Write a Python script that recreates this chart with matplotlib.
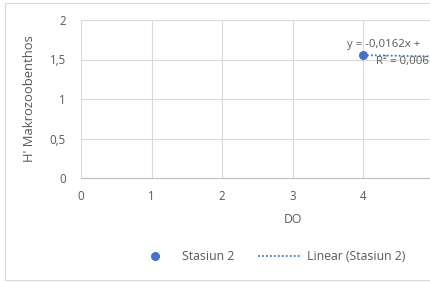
import numpy as np
import matplotlib.pyplot as plt
from matplotlib.patches import Rectangle
from matplotlib.lines import Line2D

# Stasiun 2 data (visible part)
do_values = [4.0]
h_values = [1.555]

# trendline coefficients from the chart label
slope = -0.0162
intercept = 1.62
eq_text = "y = -0,0162x +"
r2_text = "R² = 0,006"

x_ticks = [0, 1, 2, 3, 4]
grid_x = [5, 6]
y_ticks = [0, 0.5, 1, 1.5, 2]
y_tick_labels = ["0", "0,5", "1", "1,5", "2"]

txt = '#595959'
grid_c = '#d9d9d9'
blue = '#4472c4'

plt.rcParams['font.family'] = ['Open Sans', 'DejaVu Sans']

fig = plt.figure(figsize=(4.3, 2.83), dpi=100)
fig.patches.append(Rectangle((5 / 430, 3 / 283), 1.2, 1 - 6 / 283,
                             transform=fig.transFigure, fill=False,
                             edgecolor='#d9d9d9', linewidth=0.8))

ax = fig.add_axes([81 / 430, 105 / 283, 423 / 430, 158 / 283])
ax.set_xlim(0, 6)
ax.set_ylim(0, 2)
ax.set_xticks(x_ticks)
ax.set_xticklabels([str(v) for v in x_ticks])
ax.set_yticks(y_ticks)
ax.set_yticklabels(y_tick_labels)
ax.grid(True, color=grid_c, linewidth=0.8)
for gx in grid_x:
    ax.axvline(gx, color=grid_c, linewidth=0.8, zorder=0)
ax.set_axisbelow(True)
for s in ['top', 'right', 'left']:
    ax.spines[s].set_visible(False)
ax.spines['bottom'].set_color('#bfbfbf')
ax.tick_params(length=0, colors=txt, labelsize=8.3)
ax.tick_params(axis='x', pad=9)
ax.tick_params(axis='y', pad=11)

ax.scatter(do_values, h_values, s=30, color=blue, zorder=3)
xt = np.array([4.0, 6.0])
ax.plot(xt, slope * xt + intercept, color=blue, linestyle=(0, (1, 1.2)),
        linewidth=1.3, zorder=2)

ax.text(3.77, 1.69, eq_text, color=txt, fontsize=8.2, ha='left', va='center')
ax.text(4.18, 1.47, r2_text, color=txt, fontsize=8.2, ha='left', va='center')

ax.set_xlabel('DO', color=txt, fontsize=8.8, labelpad=7)
ax.set_ylabel("H' Makrozoobenthos", color=txt, fontsize=9.4, labelpad=10)

handles = [Line2D([], [], marker='o', linestyle='none', color=blue, markersize=5.5),
           Line2D([], [], color=blue, linestyle=(0, (1, 1.2)), linewidth=1.3)]
fig.legend(handles, ['Stasiun 2', 'Linear (Stasiun 2)'], loc='center',
           bbox_to_anchor=(269 / 430, 1 - 257 / 283), ncol=2, frameon=False,
           fontsize=8.8, labelcolor=txt, handlelength=3.6, handletextpad=0.45,
           columnspacing=1.9)

fig.savefig('out.png', dpi=100)
